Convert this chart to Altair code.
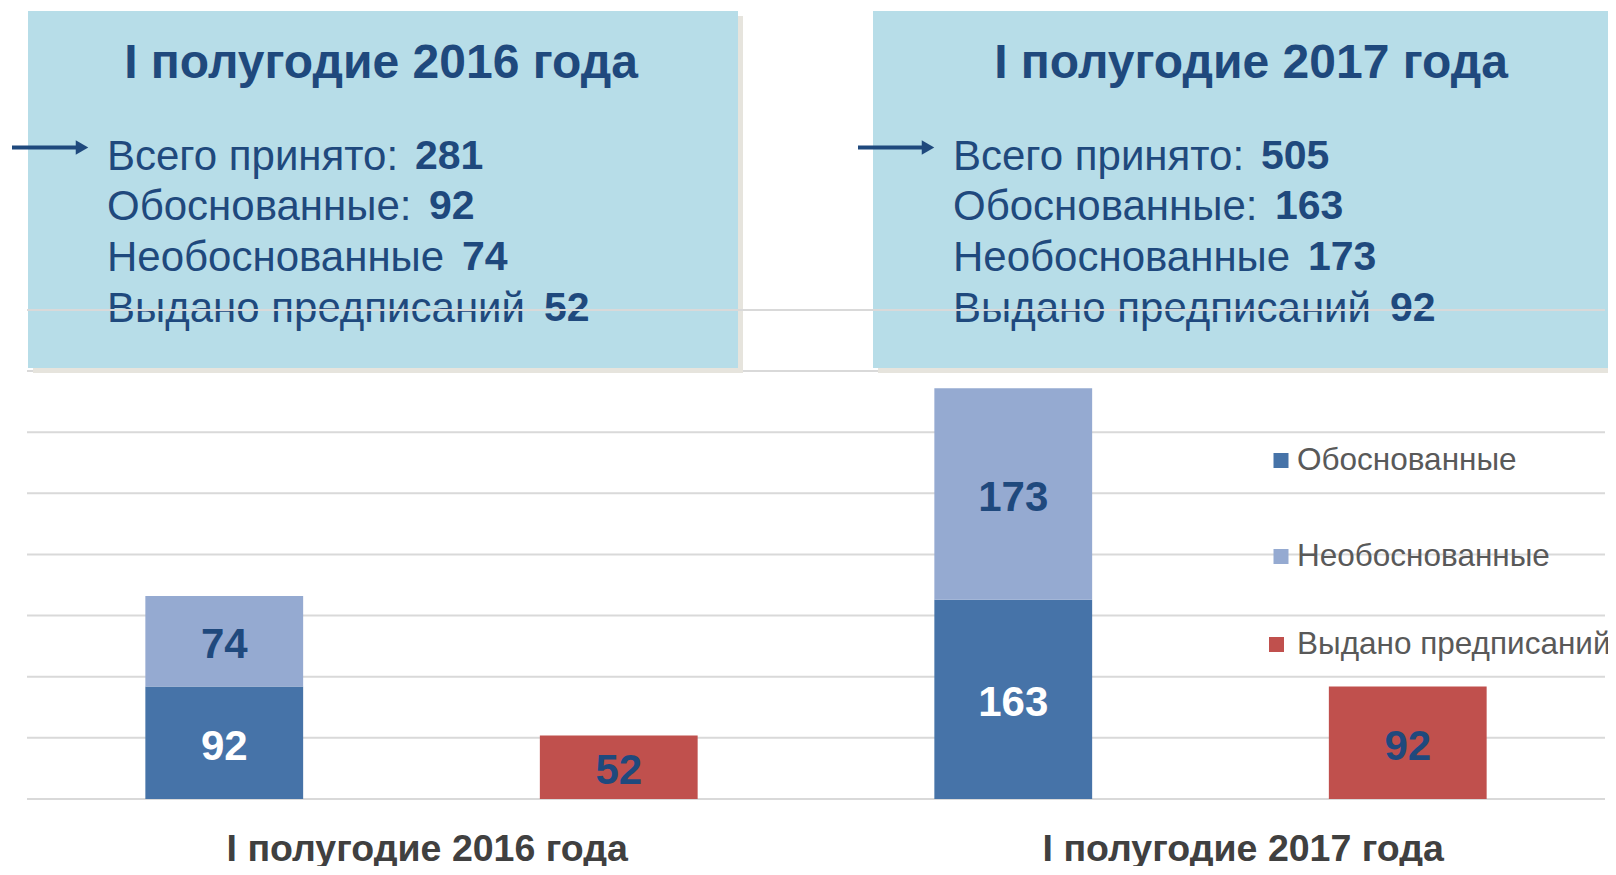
import altair as alt
import pandas as pd

# ---------------- data ----------------
periods = ["I полугодие 2016 года", "I полугодие 2017 года"]
series = ["Обоснованные", "Необоснованные", "Выдано предписаний"]
justified = [92, 163]
unjustified = [74, 173]
orders = [52, 92]
total_received = [281, 505]
grid_values = [0, 50, 100, 150, 200, 250, 300, 350, 400]
box_labels = ["Всего принято: ", "Обоснованные: ", "Необоснованные ", "Выдано предписаний "]

# ---------------- style / layout ----------------
FONT = "Liberation Sans"
DARK = "#1F497D"
colors = ["#4673A8", "#95AAD1", "#C0504D"]
W, H = 1578, 791
YMAX = 647
yscale = alt.Scale(domain=[0, YMAX], nice=False, zero=True)

slots = []
rows = []
for i, p in enumerate(periods):
    sa, sb = p + "|a", p + "|b"
    slots += [sa, sb]
    rows.append(dict(slot=sa, series=series[0], y0=0, y1=justified[i],
                     label=justified[i], tcolor="white"))
    rows.append(dict(slot=sa, series=series[1], y0=justified[i],
                     y1=justified[i] + unjustified[i], label=unjustified[i], tcolor=DARK))
    rows.append(dict(slot=sb, series=series[2], y0=0, y1=orders[i],
                     label=orders[i], tcolor=DARK))
bars = pd.DataFrame(rows)
bars["ymid"] = (bars["y0"] + bars["y1"]) / 2

xscale = alt.Scale(type="band", domain=slots, paddingInner=0.6, paddingOuter=0.3)


def xenc():
    return alt.X("slot:N", scale=xscale, axis=None, bandPosition=0.5)


def one():
    return pd.DataFrame({"a": [0]})


def txt(s, x, y, size, color, weight="normal", align="left"):
    return alt.Chart(pd.DataFrame({"t": [s]})).mark_text(
        align=align, baseline="middle", fontSize=size, fontWeight=weight,
        color=color, font=FONT
    ).encode(x=alt.value(x), y=alt.value(y), text="t:N")


def rect(x0, x1, y0, y1, color):
    return alt.Chart(one()).mark_rect(color=color).encode(
        x=alt.value(x0), x2=alt.value(x1), y=alt.value(y0), y2=alt.value(y1))


layers = []

# gridlines below everything
grid_df = pd.DataFrame({"v": grid_values})
layers.append(
    alt.Chart(grid_df[grid_df.v < max(grid_values)]).mark_rule(color="#D9D9D9", strokeWidth=2).encode(
        y=alt.Y("v:Q", scale=yscale, axis=None), x=alt.value(0), x2=alt.value(W))
)

# bars
layers.append(
    alt.Chart(bars).mark_bar().encode(
        x=alt.X("slot:N", scale=xscale, axis=None),
        y=alt.Y("y1:Q", scale=yscale, axis=None),
        y2="y0:Q",
        color=alt.Color("series:N", scale=alt.Scale(domain=series, range=colors), legend=None),
    )
)
# bar labels
layers.append(
    alt.Chart(bars).mark_text(fontSize=42, fontWeight="bold", font=FONT, baseline="middle", dy=4).encode(
        x=xenc(),
        y=alt.Y("ymid:Q", scale=yscale, axis=None),
        text="label:Q",
        color=alt.Color("tcolor:N", scale=None),
    )
)

# info boxes
boxes = [(1, 711), (846, 1600)]
BY0, BY1 = 3, 360
for (x0, x1) in boxes:
    layers.append(rect(x0 + 5, x1 + 5, BY0 + 5, BY1 + 5, "#E6E4DD"))
    layers.append(rect(x0, x1, BY0, BY1, "#B7DDE8"))

title_x = [354, 1224]
text_x = [80, 926]
line_y = [149, 199, 250, 301]
value_off = [308, 322, 355, 437]
for i, p in enumerate(periods):
    layers.append(txt(p, title_x[i], 56, 48, DARK, "bold", "center"))
    vals = [total_received[i], justified[i], unjustified[i], orders[i]]
    for k in range(4):
        layers.append(txt(box_labels[k], text_x[i], line_y[k], 42, DARK))
        layers.append(txt(str(vals[k]), text_x[i] + value_off[k], line_y[k], 41, DARK, "bold"))

# top gridline drawn across the boxes and their text
layers.append(
    alt.Chart(grid_df[grid_df.v == max(grid_values)]).mark_rule(color="#D9D9D9", strokeWidth=2).encode(
        y=alt.Y("v:Q", scale=yscale, axis=None), x=alt.value(0), x2=alt.value(W))
)

# arrows
for (ax0, ax1) in [(-15, 50), (831, 896)]:
    layers.append(alt.Chart(one()).mark_rule(color=DARK, strokeWidth=4).encode(
        x=alt.value(ax0), x2=alt.value(ax1), y=alt.value(139.5)))
    layers.append(alt.Chart(one()).mark_point(shape="triangle-right", filled=True, size=210,
                                             color=DARK, opacity=1).encode(
        x=alt.value(ax1 + 5), y=alt.value(139.5)))

# legend
leg_y = [452.5, 548.5, 636.5]
leg_sq_x = [1254, 1254, 1249.5]
for k, s in enumerate(series):
    layers.append(alt.Chart(one()).mark_square(size=225, color=colors[k], opacity=1).encode(
        x=alt.value(leg_sq_x[k]), y=alt.value(leg_y[k])))
    layers.append(txt(s, 1270, leg_y[k], 31.5, "#595959"))

# category labels under the groups
cat_dx = [203, 230]
for i, p in enumerate(periods):
    cat_df = pd.DataFrame({"slot": [slots[2 * i]], "name": [p]})
    layers.append(
        alt.Chart(cat_df).mark_text(fontSize=37.5, fontWeight="bold", font=FONT, color="#404040",
                                    baseline="middle", dx=cat_dx[i]).encode(
            x=xenc(), y=alt.value(842), text="name:N")
    )

chart = alt.layer(*layers).properties(
    width=W, height=H,
    padding={"left": 19, "top": 0, "right": 3, "bottom": 67},
    autosize=alt.AutoSizeParams(type="none"),
    background="white",
).configure_view(stroke=None)

chart.save("out.html", embed_options={"renderer": "svg", "actions": False})
